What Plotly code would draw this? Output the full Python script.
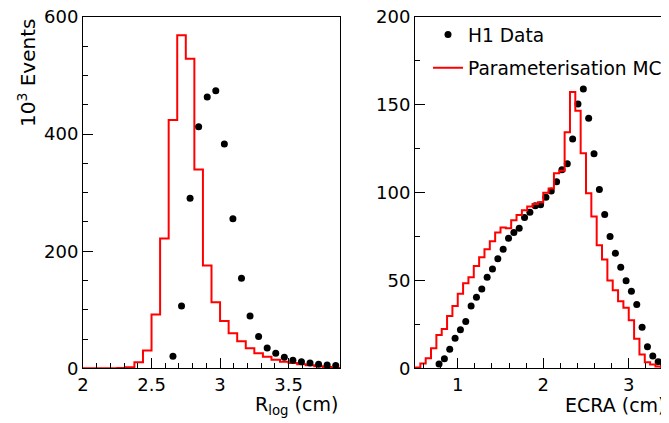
import numpy as np
import plotly.graph_objects as go

# ---------------- data ----------------
# Left panel: R_log (cm), histogram bins of width 0.0625 starting at 2.0
rlog_lo = 2.0
rlog_width = 0.0625
rlog_mc = [0, 0, 0, 0, 0.3, 2, 10.3, 30.2, 91.7, 221.7, 424, 568.7, 528.8, 339.6,
           175.5, 112.8, 80.9, 59.8, 46.2, 34.2, 25.6, 19.9, 14.8, 11.4, 9.1, 6.8,
           5.1, 3.4, 2.3, 1.1]
rlog_data_first_bin = 10
rlog_data = [20.5, 106.6, 290.6, 412.5, 463.2, 474, 382.9, 255.3, 153.8, 89.5, 54.1,
             34.8, 25.6, 18.8, 13.7, 11.4, 9.1, 6.8, 5.7, 4.6]

# Right panel: ECRA (cm), histogram bins of width 0.0625 starting at 0.5
ecra_lo = 0.5
ecra_width = 0.0625
ecra_mc = [0.5, 2.8, 5.7, 11.4, 19, 22.4, 29.8, 35.5, 42.4, 48.4, 51.9, 58.3, 63.2,
           67.8, 72.4, 77.3, 80.2, 79.8, 84.3, 87.3, 90, 92.1, 93.6, 94.5, 100, 102.3,
           111, 112.5, 134.4, 157.3, 146.6, 122.5, 99.7, 86.4, 70, 62, 50, 44.5, 38.2,
           34.5, 27.3, 16.8, 7.8, 3.5, 2.2, 1.0, 0.5, 0.3]
ecra_data_first_bin = 4
ecra_data = [2.5, 5.5, 10.8, 17.1, 22.0, 26.6, 35.5, 40.5, 45.1, 51.9, 56.6, 62.3, 67.8,
             74.1, 77.3, 79.8, 85.8, 88.9, 92.5, 93.1, 97.4, 101, 106.2, 113, 116.4,
             130.5, 150.5, 159, 142.3, 122.2, 101.8, 87.6, 75, 65.5, 57.5, 49.8, 43.8,
             36.3, 23.4, 12.3, 7, 3.8, 2.2, 1.5]

series_names = ["H1 Data", "Parameterisation MC"]
ylabel = "10<sup>3</sup> Events"
xlabel_left = "R<sub>log</sub> (cm)"
xlabel_right = "ECRA (cm)"


def step_xy(lo, width, vals):
    edges = lo + width * np.arange(len(vals) + 1)
    return list(edges), list(vals) + [vals[-1]]


def centers(lo, width, first, n):
    return list(lo + width * (first + np.arange(n) + 0.5))


# the page body adds an 8px offset; size the figure so it fills the 669x423 window
OFF = 8
W, H = 669 - OFF, 423 - OFF
FONT = "DejaVu Sans, Liberation Sans, Arial"


def px(x):
    return (x - OFF) / W


def py(y):
    return 1 - (y - OFF) / H


fig = go.Figure()

# left panel
x, y = step_xy(rlog_lo, rlog_width, rlog_mc)
fig.add_trace(go.Scatter(x=x, y=y, mode="lines", line=dict(color="#ff0000", width=2, shape="hv"),
                         showlegend=False, xaxis="x", yaxis="y"))
fig.add_trace(go.Scatter(x=centers(rlog_lo, rlog_width, rlog_data_first_bin, len(rlog_data)),
                         y=rlog_data, mode="markers", marker=dict(color="black", size=7),
                         showlegend=False, xaxis="x", yaxis="y"))

# right panel
fig.add_trace(go.Scatter(x=centers(ecra_lo, ecra_width, ecra_data_first_bin, len(ecra_data)),
                         y=ecra_data, mode="markers", marker=dict(color="black", size=7),
                         name=series_names[0], legendgroup="a", xaxis="x2", yaxis="y2"))
x, y = step_xy(ecra_lo, ecra_width, ecra_mc)
fig.add_trace(go.Scatter(x=x, y=y, mode="lines", line=dict(color="#ff0000", width=2, shape="hv"),
                         name=series_names[1], legendgroup="b", xaxis="x2", yaxis="y2"))

ytop = py(17)
ybot = py(368.3)

common_ax = dict(showline=True, linecolor="black", linewidth=1, ticks="inside", ticklen=10,
                 tickcolor="black", tickwidth=1, showgrid=False, zeroline=False, automargin=False,
                 ticklabeloverflow="allow",
                 tickfont=dict(family=FONT, size=18, color="black"))

fig.update_layout(
    width=W, height=H, margin=dict(l=0, r=0, t=0, b=0, pad=0, autoexpand=False),
    paper_bgcolor="white", plot_bgcolor="white",
    font=dict(family=FONT, color="black"),
    xaxis=dict(domain=[px(83), px(340)], range=[2.0, 3.875], dtick=0.5, tick0=2.0, mirror=True,
               anchor="y", minor=dict(dtick=0.1, ticks="inside", ticklen=5, tickcolor="black"),
               **common_ax),
    yaxis=dict(domain=[ybot, ytop], range=[0, 600], dtick=200, mirror=True, anchor="x",
               minor=dict(dtick=50, ticks="inside", ticklen=5, tickcolor="black"), **common_ax),
    xaxis2=dict(domain=[px(415), 1.0], range=[0.5, 0.5 + 254 / 85.5], dtick=1, tick0=0, mirror=True,
                anchor="y2", minor=dict(dtick=0.2, ticks="inside", ticklen=5, tickcolor="black"),
                **common_ax),
    yaxis2=dict(domain=[ybot, ytop], range=[0, 200], dtick=50, mirror=False, anchor="x2",
                minor=dict(dtick=25, ticks="inside", ticklen=5, tickcolor="black"), **common_ax),
    legend=dict(x=px(428), y=py(16), xanchor="left", yanchor="top",
                bgcolor="rgba(0,0,0,0)", font=dict(family=FONT, size=18.6, color="black"),
                traceorder="grouped", tracegroupgap=6, itemwidth=30),
    annotations=[
        dict(text=ylabel, x=px(27), y=ytop, xref="paper", yref="paper", xanchor="center",
             yanchor="top", textangle=-90, showarrow=False, font=dict(family=FONT, size=20)),
        dict(text=xlabel_left, x=px(340), y=py(405), xref="paper", yref="paper",
             xanchor="right", yanchor="middle", showarrow=False, font=dict(family=FONT, size=19)),
        dict(text=xlabel_right, x=px(668), y=py(405), xref="paper", yref="paper",
             xanchor="right", yanchor="middle", showarrow=False, font=dict(family=FONT, size=19)),
    ],
)

fig.write_html("out.html")
